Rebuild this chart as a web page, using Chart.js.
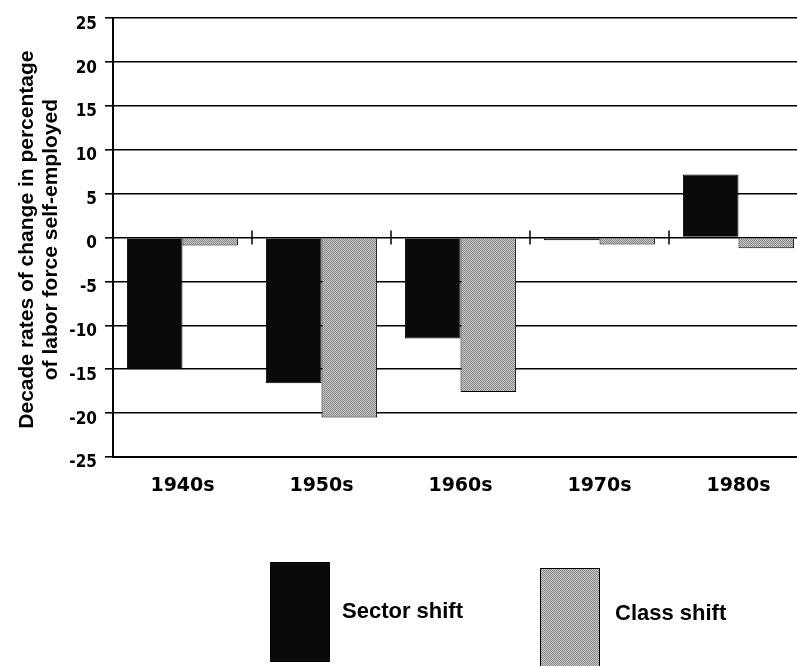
<!DOCTYPE html>
<html>
<head>
<meta charset="utf-8">
<script src="https://cdn.jsdelivr.net/npm/chart.js@4"></script>
<style>
  html, body { margin: 0; padding: 0; background: #fff; overflow: hidden; }
  #wrap { width: 815px; height: 666px; }
</style>
</head>
<body>
<div id="wrap"><canvas id="chart"></canvas></div>
<script>
    // ─── DATA ───
    const categories = ['1940s', '1950s', '1960s', '1970s', '1980s'];
    const sectorShift = [-15.0, -16.6, -11.5, -0.3, 7.2];
    const classShift = [-0.9, -20.5, -17.6, -0.8, -1.2];
    const yTicks = [-25, -20, -15, -10, -5, 0, 5, 10, 15, 20, 25];
    const yTitle = ['Decade rates of change in percentage', 'of labor force self-employed'];
    const seriesNames = ['Sector shift', 'Class shift'];

    // dithered gray like the scanned halftone
    function grayPattern() {
        const c = document.createElement('canvas');
        c.width = 2; c.height = 2;
        const g = c.getContext('2d');
        g.fillStyle = '#c4c4c4'; g.fillRect(0, 0, 2, 2);
        g.fillStyle = '#8c8c8c'; g.fillRect(0, 0, 1, 1); g.fillRect(1, 1, 1, 1);
        return g.createPattern(c, 'repeat');
    }
    const grayFill = grayPattern();

    // ─── EXTRA DRAWING: zero-line separators, axis title, legend ───
    const decorPlugin = {
        id: 'decor',
        afterDatasetsDraw(chart) {
            const { ctx, scales: { x, y } } = chart;
            const y0 = y.getPixelForValue(0);
            ctx.save();
            ctx.strokeStyle = '#000';
            ctx.lineWidth = 1.5;
            for (let i = 1; i < categories.length; i++) {
                const xs = (x.getPixelForValue(i - 1) + x.getPixelForValue(i)) / 2;
                ctx.beginPath();
                ctx.moveTo(xs, y0 - 7);
                ctx.lineTo(xs, y0 + 7);
                ctx.stroke();
            }
            ctx.restore();
        },
        afterDraw(chart) {
            const { ctx, scales: { y } } = chart;
            const cy = (y.top + y.bottom) / 2 + 2;
            ctx.save();
            ctx.fillStyle = '#000';
            ctx.font = 'bold 21px "Liberation Sans", Arial, sans-serif';
            ctx.textAlign = 'center';
            ctx.textBaseline = 'alphabetic';
            [33, 57].forEach((bx, i) => {
                ctx.save();
                ctx.translate(bx, cy);
                ctx.rotate(-Math.PI / 2);
                ctx.fillText(yTitle[i], 0, 0);
                ctx.restore();
            });

            // legend
            const ds = chart.data.datasets;
            const boxes = [{ x: 270, y: 562, tx: 342, ty: 618 }, { x: 540, y: 568, tx: 615, ty: 620 }];
            ctx.font = 'bold 22px "Liberation Sans", Arial, sans-serif';
            ctx.textAlign = 'left';
            boxes.forEach((b, i) => {
                ctx.fillStyle = ds[i].backgroundColor;
                ctx.fillRect(b.x, b.y, 60, 100);
                ctx.strokeStyle = '#000';
                ctx.lineWidth = 1;
                ctx.strokeRect(b.x + 0.5, b.y + 0.5, 59, 99);
                ctx.fillStyle = '#000';
                ctx.fillText(ds[i].label, b.tx, b.ty);
            });
            ctx.restore();
        }
    };

    // ─── CHART ───
    new Chart(document.getElementById('chart').getContext('2d'), {
        type: 'bar',
        data: {
            labels: categories,
            datasets: [{
                label: seriesNames[0],
                data: sectorShift,
                backgroundColor: '#0a0a0a',
                borderColor: '#000',
                borderWidth: 1,
            }, {
                label: seriesNames[1],
                data: classShift,
                backgroundColor: grayFill,
                borderColor: '#000',
                borderWidth: 1,
            }]
        },
        options: {
            responsive: true,
            maintainAspectRatio: false,
            animation: false,
            layout: { padding: { left: 0, right: 7, top: 13, bottom: 159 } },
            datasets: { bar: { categoryPercentage: 0.8, barPercentage: 1.0 } },
            plugins: { legend: { display: false }, tooltip: { enabled: false } },
            scales: {
                x: {
                    grid: { display: false, drawTicks: false },
                    border: { color: '#000', width: 2 },
                    ticks: {
                        color: '#000',
                        padding: 18,
                        font: { family: '"DejaVu Sans", sans-serif', weight: 'bold', size: 19 }
                    },
                    afterFit: s => { s.height = 50; }
                },
                y: {
                    min: -25,
                    max: 25,
                    afterBuildTicks: s => { s.ticks = yTicks.map(v => ({ value: v })); },
                    grid: { color: '#000', lineWidth: 1.6, tickLength: 8 },
                    border: { color: '#000', width: 2 },
                    ticks: {
                        color: '#000',
                        padding: 8,
                        labelOffset: 6,
                        font: { family: '"Liberation Sans Narrow", "DejaVu Sans Condensed", sans-serif', weight: 'bold', size: 17 }
                    },
                    afterFit: s => { s.width = 113; }
                }
            }
        },
        plugins: [decorPlugin]
    });
</script>
</body>
</html>
